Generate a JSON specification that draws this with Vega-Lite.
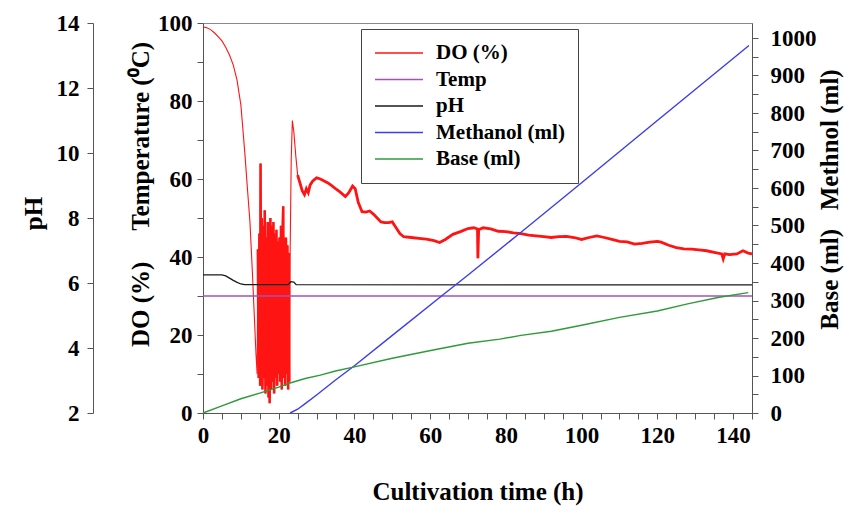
{
  "$schema": "https://vega.github.io/schema/vega-lite/v6.json",
  "width": 549,
  "height": 390,
  "autosize": {"type": "none"},
  "padding": {"left": 203, "top": 23, "right": 93, "bottom": 96},
  "background": "white",
  "datasets": {
    "do": [
      {"t":0,"v":99},{"t":1,"v":98.8},{"t":2,"v":98.3},{"t":3,"v":97.5},{"t":4,"v":96.5},{"t":5,"v":95.4},{"t":6,"v":93.8},{"t":7,"v":91.8},{"t":8,"v":89.2},{"t":9,"v":85.3},{"t":10,"v":79},{"t":10.6,"v":72},{"t":11.1,"v":66},{"t":11.7,"v":58},{"t":12.4,"v":49},{"t":13,"v":37},{"t":13.5,"v":26},{"t":14,"v":15},{"t":14.3,"v":10},
      {"t":14.5,"v":42},{"t":14.7,"v":9},{"t":14.9,"v":46},{"t":15.1,"v":7},{"t":15.2,"v":64},{"t":15.35,"v":8},{"t":15.5,"v":50},{"t":15.7,"v":6},{"t":15.9,"v":48},{"t":16.1,"v":9},{"t":16.3,"v":52},{"t":16.5,"v":5},{"t":16.7,"v":45},{"t":16.9,"v":7},{"t":17.1,"v":49},{"t":17.3,"v":4},{"t":17.5,"v":47},{"t":17.6,"v":2.5},{"t":17.8,"v":50},{"t":18,"v":6},{"t":18.2,"v":48},{"t":18.4,"v":8},{"t":18.6,"v":49},{"t":18.8,"v":5},{"t":19,"v":46},{"t":19.2,"v":9},{"t":19.4,"v":47},{"t":19.6,"v":7},{"t":19.8,"v":44},{"t":20,"v":10},{"t":20.2,"v":45},{"t":20.4,"v":8},{"t":20.6,"v":48},{"t":20.8,"v":6},{"t":21,"v":46},{"t":21.2,"v":53},{"t":21.3,"v":9},{"t":21.5,"v":44},{"t":21.7,"v":7},{"t":21.9,"v":45},{"t":22.1,"v":10},{"t":22.3,"v":43},{"t":22.5,"v":6},{"t":22.7,"v":41},{"t":22.8,"v":8},
      {"t":23,"v":40},{"t":23.3,"v":65},{"t":23.6,"v":75},{"t":24,"v":72},{"t":24.5,"v":66},{"t":25,"v":61},{"t":25.6,"v":59},{"t":26.2,"v":57},{"t":26.8,"v":56},{"t":27.3,"v":57.5},{"t":27.8,"v":56.5},{"t":28.3,"v":58.5},{"t":29,"v":59.5},{"t":30,"v":60.3},{"t":31,"v":60},{"t":32,"v":59.5},{"t":33,"v":59},{"t":34,"v":58.3},{"t":35,"v":57.5},{"t":36,"v":56.8},{"t":37,"v":56},{"t":37.6,"v":55.5},{"t":38.5,"v":56.5},{"t":39.5,"v":58.2},{"t":40.2,"v":57.5},{"t":41,"v":54},{"t":42,"v":51.6},{"t":43,"v":51.5},{"t":44,"v":51.8},{"t":45,"v":51},{"t":46,"v":50},{"t":47,"v":49},{"t":48,"v":48.8},{"t":49,"v":48.8},{"t":50,"v":49},{"t":51,"v":47.5},{"t":52,"v":46},{"t":53,"v":45.2},{"t":55,"v":45},{"t":57,"v":44.8},{"t":59,"v":44.6},{"t":61,"v":44.2},{"t":62.5,"v":43.7},{"t":64,"v":44.5},{"t":66,"v":45.8},{"t":68,"v":46.5},{"t":70,"v":47.3},{"t":71.5,"v":47.5},{"t":72.5,"v":47.2},{"t":72.6,"v":39.7},{"t":72.8,"v":47},{"t":74,"v":47.5},{"t":76,"v":47.2},{"t":78,"v":46.6},{"t":80,"v":46.5},{"t":82,"v":46.2},{"t":84,"v":46},{"t":86,"v":45.6},{"t":88,"v":45.4},{"t":90,"v":45.2},{"t":92,"v":45},{"t":94,"v":45.2},{"t":96,"v":45.3},{"t":98,"v":45},{"t":100,"v":44.5},{"t":102,"v":45},{"t":104,"v":45.4},{"t":106,"v":45},{"t":108,"v":44.5},{"t":110,"v":44},{"t":112,"v":43.9},{"t":114,"v":43.3},{"t":116,"v":43.5},{"t":118,"v":43.8},{"t":120,"v":44},{"t":121,"v":43.8},{"t":123,"v":43},{"t":125,"v":42.4},{"t":127,"v":42.1},{"t":129,"v":42},{"t":131,"v":41.8},{"t":133,"v":41.6},{"t":135,"v":41.2},{"t":137,"v":40.8},{"t":137.4,"v":39.5},{"t":137.8,"v":40.8},{"t":139,"v":40.6},{"t":141,"v":40.8},{"t":142.6,"v":41.6},{"t":144,"v":41},{"t":145,"v":40.8}
    ],
    "temp": [{"t":0,"v":30},{"t":145,"v":30}],
    "ph": [
      {"t":0,"v":6.25},{"t":5,"v":6.25},{"t":6,"v":6.22},{"t":7,"v":6.15},{"t":8,"v":6.08},{"t":9,"v":6.02},{"t":10,"v":5.97},{"t":11,"v":5.95},{"t":22.5,"v":5.95},{"t":23.2,"v":6.04},{"t":24,"v":6.03},{"t":24.6,"v":5.95},{"t":145,"v":5.94}
    ],
    "meth": [
      {"t":23,"v":0},{"t":25,"v":10},{"t":27,"v":25},{"t":30,"v":48},{"t":35,"v":88},{"t":40,"v":126},{"t":50,"v":207},{"t":63,"v":312},{"t":70,"v":368},{"t":84,"v":482},{"t":100,"v":614},{"t":120,"v":780},{"t":144.2,"v":980}
    ],
    "base": [
      {"t":0,"v":0},{"t":5,"v":19},{"t":10,"v":38},{"t":15,"v":53},{"t":20,"v":69},{"t":23,"v":80},{"t":27,"v":92},{"t":31,"v":101},{"t":35,"v":112},{"t":40,"v":123},{"t":50,"v":146},{"t":60.8,"v":168},{"t":70,"v":186},{"t":78.4,"v":197},{"t":84,"v":207},{"t":92,"v":218},{"t":100,"v":234},{"t":110,"v":255},{"t":120,"v":272},{"t":128,"v":291},{"t":136,"v":308},{"t":144,"v":321}
    ]
  },
  "encoding": {
    "x": {
      "field": "t", "type": "quantitative",
      "scale": {"domain": [0, 145], "nice": false, "zero": false},
      "axis": {
        "title": "Cultivation time (h)",
        "values": [0,5,10,15,20,25,30,35,40,45,50,55,60,65,70,75,80,85,90,95,100,105,110,115,120,125,130,135,140,145],
        "labelExpr": "datum.value % 20 === 0 ? datum.label : ''",
        "labelPadding": 5,
        "titlePadding": 32
      }
    }
  },
  "layer": [
    {
      "encoding": {
        "y": {
          "field": "v", "type": "quantitative",
          "scale": {"domain": [0, 100], "nice": false},
          "axis": {
            "orient": "left",
            "title": "DO (%)\u2003 Temperature (\u2070C)",
            "values": [0,10,20,30,40,50,60,70,80,90,100],
            "labelExpr": "datum.value % 20 === 0 ? datum.label : ''",
            "labelPadding": 5,
            "titlePadding": 4,
            "titleY": 171
          }
        },
        "color": {
          "field": "s", "type": "nominal",
          "scale": {"domain": ["DO (%)", "Temp", "pH", "Methanol (ml)", "Base (ml)"], "range": ["#ff1414", "#a552b5", "#1a1a1a", "#3c3cf0", "#2f9a38"]},
          "legend": {"title": null}
        }
      },
      "layer": [
        {"data": {"name": "do"}, "transform": [{"calculate": "'DO (%)'", "as": "s"}], "mark": {"type": "line", "strokeWidth": 1.1}},
        {"data": {"name": "do"}, "transform": [{"filter": "datum.t >= 14.4 && datum.t <= 22.9"}, {"calculate": "'DO (%)'", "as": "s"}], "mark": {"type": "line", "strokeWidth": 2.6}},
        {"data": {"name": "do"}, "transform": [{"filter": "datum.t >= 25"}, {"calculate": "'DO (%)'", "as": "s"}], "mark": {"type": "line", "strokeWidth": 2.8}},
        {"data": {"name": "temp"}, "transform": [{"calculate": "'Temp'", "as": "s"}], "mark": {"type": "line", "strokeWidth": 1.3}}
      ]
    },
    {
      "data": {"name": "ph"},
      "transform": [{"calculate": "'pH'", "as": "s"}],
      "mark": {"type": "line", "strokeWidth": 1.3},
      "encoding": {
        "y": {
          "field": "v", "type": "quantitative",
          "scale": {"domain": [2, 14], "nice": false, "zero": false},
          "axis": {
            "orient": "left", "offset": 110, "title": "pH",
            "values": [2,4,6,8,10,12,14],
            "labelPadding": 8, "titlePadding": 10, "titleY": 190
          }
        },
        "color": {"field": "s", "type": "nominal", "scale": {"domain": ["DO (%)", "Temp", "pH", "Methanol (ml)", "Base (ml)"], "range": ["#ff1414", "#a552b5", "#1a1a1a", "#3c3cf0", "#2f9a38"]}, "legend": {"title": null}}
      }
    },
    {
      "encoding": {
        "y": {
          "field": "v", "type": "quantitative",
          "scale": {"domain": [0, 1040], "nice": false},
          "axis": {
            "orient": "right",
            "title": "Base (ml)\u2002 Methnol (ml)",
            "titleAngle": -90,
            "format": "d",
            "values": [0,50,100,150,200,250,300,350,400,450,500,550,600,650,700,750,800,850,900,950,1000],
            "labelExpr": "datum.value % 100 === 0 ? datum.label : ''",
            "labelPadding": 12, "titlePadding": 26, "titleY": 176
          }
        },
        "color": {"field": "s", "type": "nominal", "scale": {"domain": ["DO (%)", "Temp", "pH", "Methanol (ml)", "Base (ml)"], "range": ["#ff1414", "#a552b5", "#1a1a1a", "#3c3cf0", "#2f9a38"]}, "legend": {"title": null}}
      },
      "layer": [
        {"data": {"name": "meth"}, "transform": [{"calculate": "'Methanol (ml)'", "as": "s"}], "mark": {"type": "line", "strokeWidth": 1.4}},
        {"data": {"name": "base"}, "transform": [{"calculate": "'Base (ml)'", "as": "s"}], "mark": {"type": "line", "strokeWidth": 1.4}}
      ]
    }
  ],
  "resolve": {"scale": {"y": "independent"}},
  "config": {
    "font": "Liberation Serif",
    "view": {"stroke": "#8a8a8a", "strokeWidth": 1},
    "axis": {
      "grid": false,
      "labelFont": "Liberation Serif", "labelFontSize": 23, "labelFontWeight": "bold", "labelColor": "#000",
      "titleFont": "Liberation Serif", "titleFontSize": 25, "titleFontWeight": "bold", "titleColor": "#000",
      "domainColor": "#555", "tickColor": "#555", "tickSize": 6, "labelFlush": false, "labelOverlap": false
    },
    "legend": {
      "orient": "none", "legendX": 158, "legendY": 6,
      "strokeColor": "#444", "fillColor": "white", "padding": 13,
      "symbolType": "stroke", "symbolSize": 2304, "symbolStrokeWidth": 1.3,
      "labelFont": "Liberation Serif", "labelFontSize": 21, "labelFontWeight": "bold", "labelColor": "#000",
      "labelOffset": 12, "rowPadding": 4.5, "clipHeight": 22
    }
  }
}
